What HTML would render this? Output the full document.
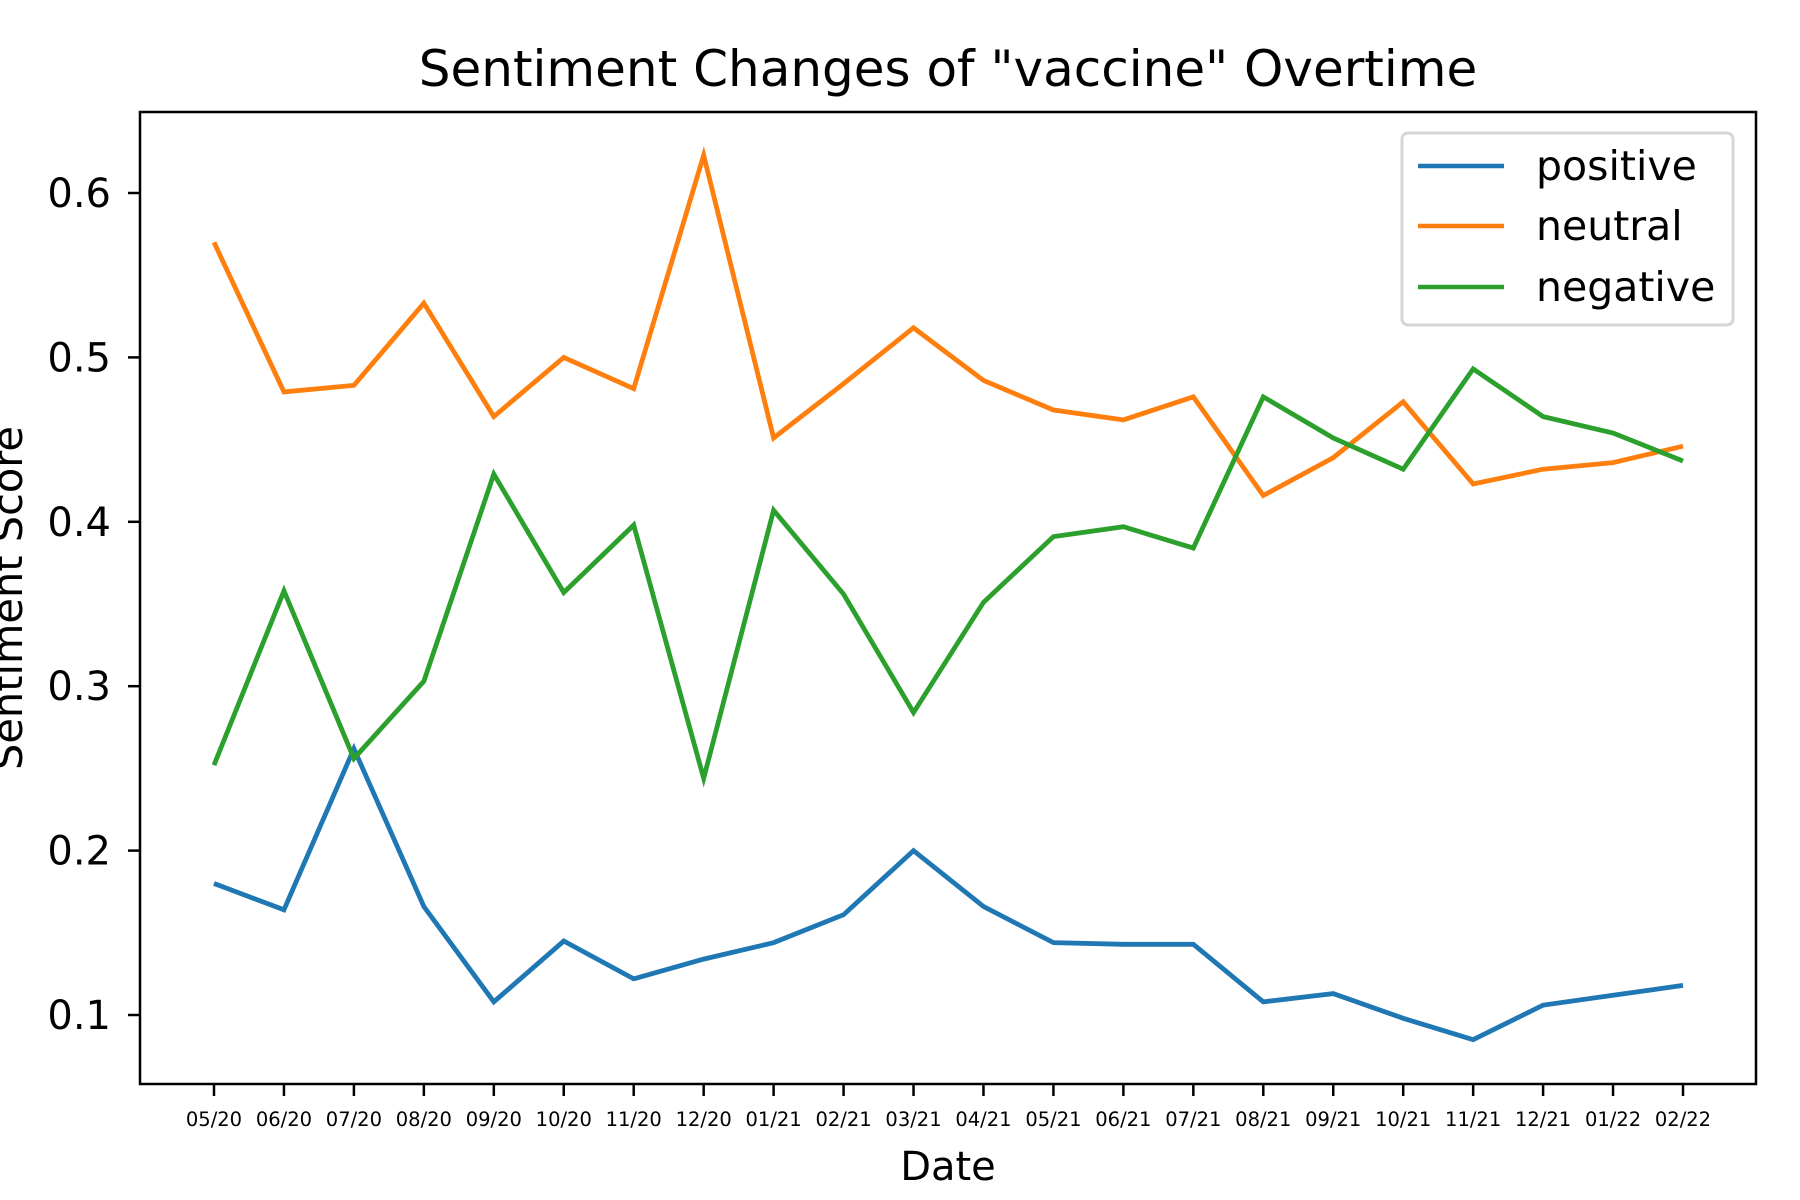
<!DOCTYPE html>
<html><head><meta charset="utf-8"><style>
body{margin:0;background:#fff}
svg{display:block;font-family:"DejaVu Sans","Liberation Sans",sans-serif}
</style></head><body>
<svg id="chart" width="1800" height="1200" viewBox="0 0 1800 1200">
<text x="948" y="86" font-size="50" text-anchor="middle">Sentiment Changes of "vaccine" Overtime</text>
<g id="marks"></g>
<rect x="140" y="112" width="1616" height="972" fill="none" stroke="#000" stroke-width="2.5"/>
<g id="axes"></g>
<text x="948" y="1180" font-size="40" text-anchor="middle">Date</text>
<text transform="translate(22,598) rotate(-90)" font-size="41.5" text-anchor="middle">Sentiment Score</text>
<g>
<rect x="1402" y="133" width="331" height="192" rx="6" fill="#fff" stroke="#d6d6d6" stroke-width="3"/>
<g><line x1="1418" y1="166" x2="1504" y2="166" stroke="#1f77b4" stroke-width="4.5"/><text x="1536" y="180" font-size="41">positive</text></g>
<g><line x1="1418" y1="226" x2="1504" y2="226" stroke="#ff7f0e" stroke-width="4.5"/><text x="1536" y="240" font-size="41">neutral</text></g>
<g><line x1="1418" y1="287" x2="1504" y2="287" stroke="#2ca02c" stroke-width="4.5"/><text x="1536" y="301" font-size="41">negative</text></g>
</g>
</svg>
<script>
const categories=["05/20","06/20","07/20","08/20","09/20","10/20","11/20","12/20","01/21","02/21","03/21","04/21","05/21","06/21","07/21","08/21","09/21","10/21","11/21","12/21","01/22","02/22"];
const positive=[0.180,0.164,0.262,0.166,0.108,0.145,0.122,0.134,0.144,0.161,0.200,0.166,0.144,0.143,0.143,0.108,0.113,0.098,0.085,0.106,0.112,0.118];
const neutral=[0.570,0.479,0.483,0.533,0.464,0.500,0.481,0.623,0.451,0.484,0.518,0.486,0.468,0.462,0.476,0.416,0.439,0.473,0.423,0.432,0.436,0.446];
const negative=[0.252,0.358,0.256,0.303,0.429,0.357,0.398,0.244,0.407,0.356,0.284,0.351,0.391,0.397,0.384,0.476,0.451,0.432,0.493,0.464,0.454,0.437];
const yTicks=[0.1,0.2,0.3,0.4,0.5,0.6];
const NS="http://www.w3.org/2000/svg";
function xs(i){return 214+i*(1683-214)/(categories.length-1);}
function ys(v){return 1015-(v-0.1)*1644;}
const marks=document.getElementById('marks'),axes=document.getElementById('axes');
function line(vals,color,name){
  const p=document.createElementNS(NS,'polyline');
  p.setAttribute('points',vals.map((v,i)=>xs(i)+','+ys(v)).join(' '));
  p.setAttribute('fill','none');p.setAttribute('stroke',color);p.setAttribute('stroke-width','4.8');p.setAttribute('stroke-linejoin','miter');
  
  
  marks.appendChild(p);
}
line(positive,'#1f77b4','positive-line');
line(neutral,'#ff7f0e','neutral-line');
line(negative,'#2ca02c','negative-line');
categories.forEach((c,i)=>{
  const t=document.createElementNS(NS,'line');
  t.setAttribute('x1',xs(i));t.setAttribute('x2',xs(i));t.setAttribute('y1',1084);t.setAttribute('y2',1096);t.setAttribute('stroke','#000');t.setAttribute('stroke-width','2.5');
  
  
  axes.appendChild(t);
  const l=document.createElementNS(NS,'text');
  l.setAttribute('x',xs(i));l.setAttribute('y',1126);l.setAttribute('font-size','19.5');l.setAttribute('text-anchor','middle');
  l.textContent=c;
  
  
  axes.appendChild(l);
});
yTicks.forEach(v=>{
  const t=document.createElementNS(NS,'line');
  t.setAttribute('x1',128);t.setAttribute('x2',140);t.setAttribute('y1',ys(v));t.setAttribute('y2',ys(v));t.setAttribute('stroke','#000');t.setAttribute('stroke-width','2.5');
  
  
  axes.appendChild(t);
  const l=document.createElementNS(NS,'text');
  l.setAttribute('x',111);l.setAttribute('y',ys(v)+14);l.setAttribute('font-size','40');l.setAttribute('text-anchor','end');
  l.textContent=v.toFixed(1);
  
  
  axes.appendChild(l);
});
</script>
</body></html>
